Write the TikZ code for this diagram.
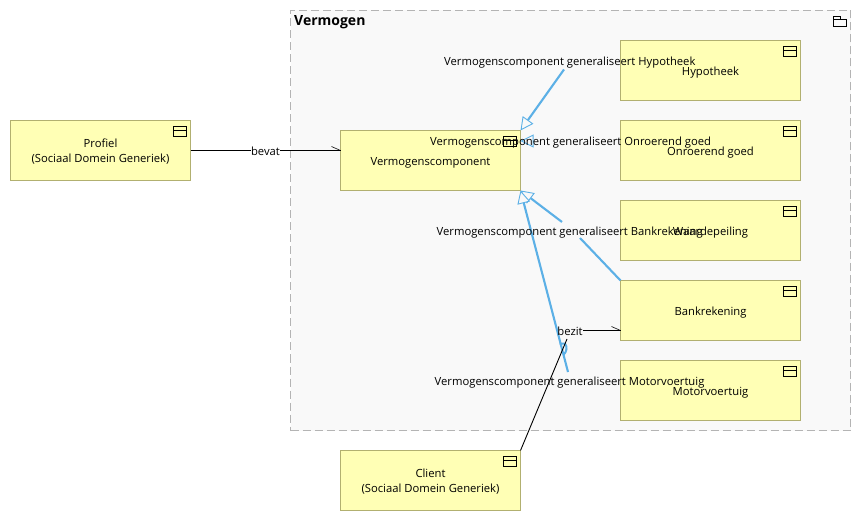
\documentclass[tikz,border=0pt]{standalone}
\usepackage{fontspec}
\setmainfont{Open Sans}
\usetikzlibrary{arrows.meta}
\definecolor{boxfill}{HTML}{FFFFB5}
\definecolor{boxline}{HTML}{B2B070}
\definecolor{grpfill}{HTML}{F9F9F9}
\definecolor{grpline}{HTML}{B4B4B4}
\definecolor{genblue}{HTML}{5CB0E6}
\tikzset{
  elem/.style={draw=boxline,fill=boxfill,line width=1pt,outer sep=0pt,minimum width=180pt,minimum height=60pt,inner sep=0pt,anchor=north west},
  lab/.style={text=black,font=\fontsize{11.25}{15}\selectfont,inner sep=0pt,align=center},
  gen/.style={draw=genblue,line width=2.1pt},
  genarrow/.style={draw=genblue,line width=2.1pt,-{Triangle[open,length=13pt,width=13pt,line width=.9pt,fill=grpfill]}},
  rel/.style={draw=black,line width=.9pt},
  barb/.style={draw=black,line width=.6pt},
  comp/.pic={\draw[black,line width=.9pt] (-17,6) rectangle (-4,16) (-17,10) -- (-4,10);},
}
\begin{document}
\begin{tikzpicture}[x=1pt,y=-1pt]
\useasboundingbox (0,0) rectangle (861,521);
\fill[white] (0,0) rectangle (861,521);
% group
\node[draw=grpline,fill=grpfill,dash pattern=on 8pt off 4pt,line width=1pt,outer sep=0pt,minimum width=560pt,minimum height=420pt,inner sep=0pt,anchor=north west] (group) at (290.5,10.5) {};
\node[anchor=west,inner sep=0pt,font=\fontsize{14}{16}\selectfont\bfseries,text=black] (grouptitle) at (294,22) {Vermogen};
\draw[black,line width=.9pt] (833.5,19.5) rectangle (846.5,26) (833.5,19.5) -- (833.5,16) -- (840,16) -- (840,19.5);
% elements
\node[elem] (profiel) at (10.5,120.5) {};
\node[lab] (profieltext) at (100.5,151.5) {Profiel\\(Sociaal Domein Generiek)};
\node[elem] (vc) at (340.5,130.5) {};
\node[lab] (vctext) at (430.5,163) {Vermogenscomponent};
\node[elem] (hyp) at (620.5,40.5) {};
\node[lab] (hyptext) at (710.5,73) {Hypotheek};
\node[elem] (onr) at (620.5,120.5) {};
\node[lab] (onrtext) at (710.5,153) {Onroerend goed};
\node[elem] (waa) at (620.5,200.5) {};
\node[lab] (waatext) at (710.5,233) {Waardepeiling};
\node[elem] (bank) at (620.5,280.5) {};
\node[lab] (banktext) at (710.5,313) {Bankrekening};
\node[elem] (motor) at (620.5,360.5) {};
\node[lab] (motortext) at (710.5,393) {Motorvoertuig};
\node[elem] (client) at (340.5,450.5) {};
\node[lab] (clienttext) at (430.5,481.5) {Client\\(Sociaal Domein Generiek)};
\foreach \n in {profiel,vc,hyp,onr,waa,bank,motor,client}
  \pic at (\n.north east) {comp};
% generalisation connectors
\coordinate (hypstart) at (564,69.5);
\coordinate (tiptop) at (520.5,130.5);
\draw[genarrow] (hypstart) -- (tiptop);
\coordinate (onrstart) at (533,141);
\coordinate (tipmid) at (520.5,141);
\draw[genarrow,line width=.9pt] (onrstart) -- (tipmid);
\coordinate (bankgapa) at (580,238);
\coordinate (bankgapb) at (562,222);
\draw[gen] (bank.north west) -- (bankgapa);
\draw[genarrow] (bankgapb) -- (vc.south east);
\coordinate (motorstart) at (568,372);
\draw[genarrow] (motorstart) -- (vc.south east);
\coordinate (humpa) at (559.5,343.5);
\coordinate (humpb) at (563.5,355);
\draw[draw=genblue,line width=2pt] (humpa) -- (565,343.5) .. controls (567.5,347) and (567,351) .. (humpb);
% labels
\node[lab,anchor=west] (lab1) at (444,63) {Vermogenscomponent generaliseert Hypotheek};
\node[lab,anchor=west] (lab2) at (430,143) {Vermogenscomponent generaliseert Onroerend goed};
\node[lab,anchor=west] (lab3) at (436.5,233) {Vermogenscomponent generaliseert Bankrekening};
\node[lab,anchor=west] (lab4) at (434.5,383) {Vermogenscomponent generaliseert Motorvoertuig};
% other relations
\node[lab] (bevat) at (265.5,151.5) {bevat};
\node[lab] (bezit) at (570,331.5) {bezit};
\coordinate (bevattip) at (340.5,150.5);
\coordinate (bezittip) at (620.5,330.5);
\coordinate (clientend) at (567,339);
\draw[rel] (profiel.east) -- (bevat.west |- profiel.east);
\draw[rel] (bevat.east |- bevattip) -- (bevattip);
\draw[barb] (bevattip) ++(-9,-4) -- (bevattip);
\draw[rel] (client.north east) -- (clientend);
\draw[rel] (bezit.east |- bezittip) -- (bezittip);
\draw[barb] (bezittip) ++(-9,-4) -- (bezittip);
\end{tikzpicture}
\end{document}
